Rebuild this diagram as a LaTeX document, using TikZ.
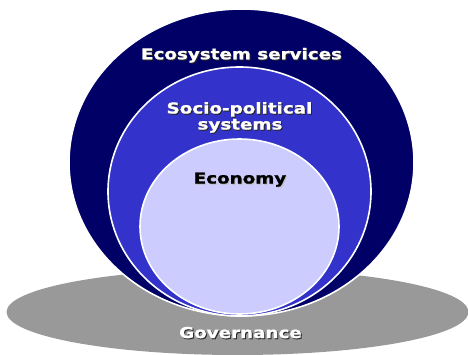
\documentclass[tikz,border=0pt]{standalone}
\usepackage{fontspec}
\newfontfamily\vfont[FakeStretch=1.22, BoldFeatures={FakeBold=1.3}]{DejaVu Sans}
\definecolor{navy}{HTML}{000066}
\definecolor{midblue}{HTML}{3333CC}
\definecolor{lav}{HTML}{CCCCFF}
\definecolor{govgray}{HTML}{999999}
\tikzset{
  lbl/.style={font=\vfont\bfseries\fontsize{15}{17}\selectfont, anchor=base, inner sep=0pt},
  wtext/.style={lbl, text=white},
  dshadow/.style={lbl, text=black!85},
  lshadow/.style={lbl, text=black!25},
  ring/.style={draw=white, line width=1.6pt}
}
\begin{document}
\begin{tikzpicture}[x=1pt,y=-1pt]
\useasboundingbox (0,0) rectangle (468,354);
\fill[govgray] (237.5,312) ellipse [x radius=231, y radius=43];
\path[fill=navy, ring] (241.5,162.5) ellipse [x radius=172.5, y radius=153.5];
\path[fill=midblue, ring] (239.5,191.5) ellipse [x radius=131.5, y radius=124.5];
\path[fill=lav, ring] (239.5,226.5) ellipse [x radius=99.5, y radius=87.5];
% labels
\node[dshadow] (ecoS) at (242.5,60.3) {Ecosystem services};
\node[wtext] (eco) at (241.5,59.3) {Ecosystem services};
\node[dshadow] (socS) at (240.5,114.5) {Socio-political};
\node[wtext] (soc) at (239.5,113.5) {Socio-political};
\node[dshadow] (sysS) at (241,130.5) {systems};
\node[wtext] (sys) at (240,129.5) {systems};
\node[lshadow] (econS) at (241,184.5) {Economy};
\node[lbl, text=black] (econ) at (240,183.5) {Economy};
\node[dshadow] (govS) at (241.5,339) {Governance};
\node[wtext] (gov) at (240.5,338) {Governance};
\end{tikzpicture}
\end{document}
